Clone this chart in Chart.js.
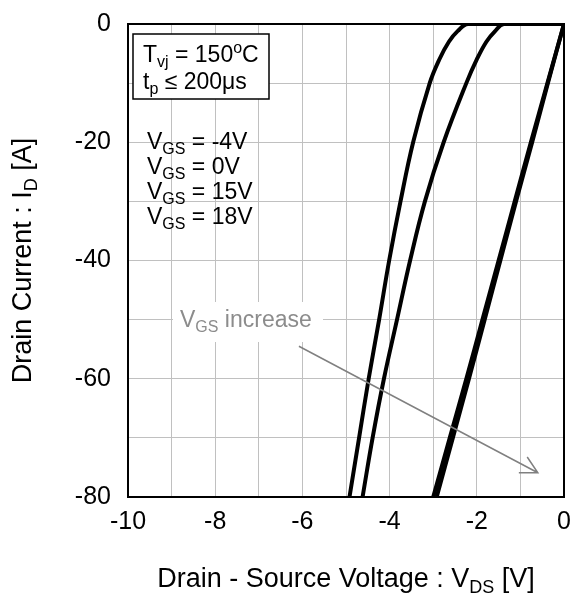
<!DOCTYPE html>
<html>
<head>
<meta charset="utf-8">
<script src="https://cdn.jsdelivr.net/npm/chart.js@4"></script>
<style>
  html, body { margin: 0; padding: 0; background: #fff; }
  #wrap { width: 572px; height: 593px; }
</style>
</head>
<body>
<div id="wrap"><canvas id="chart-id-vds"></canvas></div>
<script>
// Reverse characteristic, drain current vs drain-source voltage

let vgsLabels = ['-4V', '0V', '15V', '18V']

// VGS = -4V
let vdsM4 = [-4.92, -4.70, -4.48, -4.24, -4.01, -3.75, -3.46, -3.08, -2.86, -2.64, -2.44, -2.20, 0]
let idM4  = [-80, -70, -60, -50, -40, -30, -20, -10, -6, -3, -1.2, 0, 0]

// VGS = 0V
let vds0 = [-4.62, -4.39, -4.13, -3.83, -3.53, -3.19, -2.76, -2.24, -2.00, -1.78, -1.58, -1.38, 0]
let id0  = [-80, -70, -60, -50, -40, -30, -20, -10, -6, -3, -1.2, 0, 0]

// VGS = 15V / 18V
let vds15 = [-3.00, -2.62, -2.24, -1.87, -1.50, -1.13, -0.76, -0.38, 0]
let vds18 = [-2.92, -2.55, -2.18, -1.82, -1.46, -1.10, -0.73, -0.37, 0]
let idOn  = [-80, -70, -60, -50, -40, -30, -20, -10, 0]

let xTicks = [-10, -8, -6, -4, -2, 0]
let yTicks = [-80, -60, -40, -20, 0]

// arrow "VGS increase" (from, to) in V / A
let arrowFrom = [-6.08, -54.5]
let arrowTo   = [-0.60, -75.9]

let FONT = '"Liberation Sans", Arial, sans-serif'

let toPoints = (xs, ys) => xs.map((x, i) => ({ x: x, y: ys[i] }))

let curve = (label, xs, ys) => ({
	label: 'VGS = ' + label,
	data: toPoints(xs, ys),
	borderColor: '#000',
	borderWidth: 4,
	pointRadius: 0,
	showLine: true,
	fill: false,
	tension: 0.4,
	clip: 0,
})

// draw text with sub/superscript parts: [text, 'n' | 'sub' | 'sup']
function drawRich(ctx, parts, x, y, size, align) {
	let small = Math.round(size * 0.68)
	let widths = parts.map(p => {
		ctx.font = (p[1] === 'n' ? size : small) + 'px ' + FONT
		return ctx.measureText(p[0]).width
	})
	let total = widths.reduce((a, b) => a + b, 0)
	let cx = align === 'center' ? x - total / 2 : x
	ctx.textBaseline = 'alphabetic'
	ctx.textAlign = 'left'
	parts.forEach((p, i) => {
		let dy = p[1] === 'sub' ? size * 0.22 : (p[1] === 'sup' ? -size * 0.38 : 0)
		ctx.font = (p[1] === 'n' ? size : small) + 'px ' + FONT
		ctx.fillText(p[0], cx, y + dy)
		cx += widths[i]
	})
	return total
}

let annotations = {
	id: 'annotations',
	afterDatasetsDraw(chart) {
		let ctx = chart.ctx
		let a = chart.chartArea
		let xs = chart.scales.x
		let ys = chart.scales.y
		ctx.save()

		// frame
		ctx.strokeStyle = '#000'
		ctx.lineWidth = 2
		ctx.strokeRect(a.left, a.top, a.right - a.left, a.bottom - a.top)

		// condition box
		ctx.fillStyle = '#fff'
		ctx.fillRect(a.left + 5, a.top + 10, 136, 65)
		ctx.lineWidth = 1.5
		ctx.strokeRect(a.left + 5, a.top + 10, 136, 65)
		ctx.fillStyle = '#000'
		drawRich(ctx, [['T', 'n'], ['vj', 'sub'], [' = 150', 'n'], ['o', 'sup'], ['C', 'n']], a.left + 15, a.top + 38, 23)
		drawRich(ctx, [['t', 'n'], ['p', 'sub'], [' ≤ 200μs', 'n']], a.left + 15, a.top + 65, 23)

		// VGS list
		vgsLabels.forEach((v, i) => {
			drawRich(ctx, [['V', 'n'], ['GS', 'sub'], [' = ' + v, 'n']], a.left + 19, a.top + 125 + i * 25, 23)
		})

		// arrow
		let x1 = xs.getPixelForValue(arrowFrom[0]), y1 = ys.getPixelForValue(arrowFrom[1])
		let x2 = xs.getPixelForValue(arrowTo[0]), y2 = ys.getPixelForValue(arrowTo[1])
		let ang = Math.atan2(y2 - y1, x2 - x1)
		ctx.strokeStyle = '#808080'
		ctx.lineWidth = 1.5
		ctx.beginPath()
		ctx.moveTo(x1, y1)
		ctx.lineTo(x2, y2)
		ctx.moveTo(x2 - 19 * Math.cos(ang - 0.49), y2 - 19 * Math.sin(ang - 0.49))
		ctx.lineTo(x2, y2)
		ctx.lineTo(x2 - 19 * Math.cos(ang + 0.49), y2 - 19 * Math.sin(ang + 0.49))
		ctx.stroke()

		// "VGS increase" label on white
		ctx.fillStyle = '#fff'
		ctx.fillRect(a.left + 45, a.top + 278, 150, 40)
		ctx.fillStyle = '#8c8c8c'
		drawRich(ctx, [['V', 'n'], ['GS', 'sub'], [' increase', 'n']], a.left + 52, a.top + 303, 23)

		// axis titles
		ctx.fillStyle = '#000'
		drawRich(ctx, [['Drain - Source Voltage : V', 'n'], ['DS', 'sub'], [' [V]', 'n']], (a.left + a.right) / 2, 587, 27, 'center')
		ctx.translate(31, (a.top + a.bottom) / 2)
		ctx.rotate(-Math.PI / 2)
		drawRich(ctx, [['Drain Current : I', 'n'], ['D', 'sub'], [' [A]', 'n']], 0, 0, 27, 'center')

		ctx.restore()
	}
}

let buildChart = (element) => {
	let $chart = document.querySelector(element)

	let chart = new Chart($chart, {
		type: 'scatter',
		data: {
			datasets: [
				curve(vgsLabels[0], vdsM4, idM4),
				curve(vgsLabels[1], vds0, id0),
				curve(vgsLabels[2], vds15, idOn),
				curve(vgsLabels[3], vds18, idOn),
			]
		},
		options: {
			responsive: true,
			maintainAspectRatio: false,
			animation: false,
			layout: { padding: { top: 24, right: 8, left: 0, bottom: 0 } },
			plugins: {
				legend: { display: false },
				tooltip: { enabled: false },
			},
			scales: {
				x: {
					type: 'linear',
					min: -10,
					max: 0,
					afterFit: (s) => { s.height = 96; s.paddingLeft = 0; s.paddingRight = 0 },
					afterBuildTicks: (s) => { s.ticks = [-10, -9, -8, -7, -6, -5, -4, -3, -2, -1, 0].map(v => ({ value: v })) },
					ticks: {
						color: '#000',
						font: { family: FONT, size: 25 },
						padding: 10,
						maxRotation: 0,
						autoSkip: false,
						callback: (v) => xTicks.includes(v) ? String(v) : '',
					},
					grid: { color: '#c0c0c0', lineWidth: 1, drawTicks: false },
					border: { display: true, color: '#000', width: 2 },
				},
				y: {
					type: 'linear',
					min: -80,
					max: 0,
					afterFit: (s) => { s.width = 128; s.paddingTop = 0; s.paddingBottom = 0 },
					afterBuildTicks: (s) => { s.ticks = [-80, -70, -60, -50, -40, -30, -20, -10, 0].map(v => ({ value: v })) },
					ticks: {
						color: '#000',
						font: { family: FONT, size: 25 },
						padding: 17,
						autoSkip: false,
						callback: (v) => yTicks.includes(v) ? String(v) : '',
					},
					grid: { color: '#c0c0c0', lineWidth: 1, drawTicks: false },
					border: { display: true, color: '#000', width: 2 },
				},
			},
		},
		plugins: [annotations],
	})
	return chart
}

var idVdsChart = buildChart('#chart-id-vds')
</script>
</body>
</html>
